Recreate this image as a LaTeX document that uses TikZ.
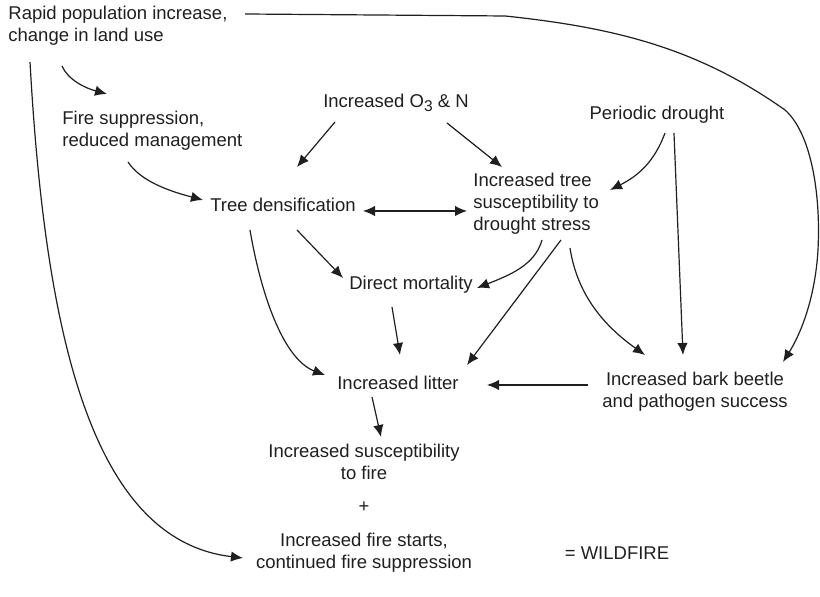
\documentclass[tikz,border=0pt]{standalone}
\usepackage{fontspec}
\setmainfont{Liberation Sans}
\usetikzlibrary{arrows.meta,calc}
\begin{document}
\begin{tikzpicture}[x=0.5pt,y=-0.5pt,
  lbl/.style={inner sep=0pt,font=\fontsize{9.25}{11}\selectfont,text=black!88},
  arr/.style={line width=0.6pt,draw=black!88,-{Latex[length=6pt,width=5.2pt]}},
  darr/.style={line width=0.6pt,draw=black!88,{Latex[length=6pt,width=5.2pt]}-{Latex[length=6pt,width=5.2pt]}}]
\useasboundingbox (0,0) rectangle (820,597);
\node[lbl,anchor=west,align=left] (rapid) at (8,26) {Rapid population increase,\\change in land use};
\node[lbl,anchor=west,align=left] (fire) at (62,131) {Fire suppression,\\reduced management};
\node[lbl] (o3) at (396,103) {Increased O\raisebox{-0.45ex}{\fontsize{7.8}{9}\selectfont 3} \& N};
\node[lbl] (pd) at (657,115) {Periodic drought};
\node[lbl] (td) at (283,205) {Tree densification};
\node[lbl,anchor=west,align=left] (its) at (473,204) {Increased tree\\susceptibility to\\drought stress};
\node[lbl] (dm) at (411,285) {Direct mortality};
\node[lbl] (il) at (398,383) {Increased litter};
\node[lbl,align=center] (bb) at (695,392) {Increased bark beetle\\and pathogen success};
\node[lbl,align=center] (isf) at (364,462) {Increased susceptibility\\to fire};
\node[lbl] (plus) at (364,507) {+};
\node[lbl,align=center] (ifs) at (364,553) {Increased fire starts,\\continued fire suppression};
\node[lbl] (wild) at (617,553) {= WILDFIRE};
% connectors
\draw[arr] ($(rapid.west)+(237,-12)$) -- (505,16) .. controls (620,28) and (700,50) .. (785,110) .. controls (810,132) and (821,190) .. (818,250) .. controls (815,300) and (800,335) .. ($(bb)+(88,-30)$);
\draw[arr] ($(rapid.west)+(54,40)$) .. controls (68,80) and (85,88) .. ($(fire.west)+(45,-37)$);
\draw[arr] ($(rapid.west)+(22,36)$) .. controls (45,330) and (90,540) .. ($(ifs)+(-121,5)$);
\draw[arr] ($(fire.west)+(66,31)$) .. controls (140,180) and (165,190) .. ($(td)+(-80,-5)$);
\draw[arr] ($(o3)+(-61,19)$) -- ($(td)+(14,-38)$);
\draw[arr] ($(o3)+(51,20)$) -- ($(its.west)+(29,-37)$);
\draw[arr] ($(pd)+(8,18)$) .. controls (655,160) and (640,175) .. ($(its.west)+(137,-14)$);
\draw[arr] ($(pd)+(17,18)$) -- ($(bb)+(-12,-37)$);
\draw[darr] ($(td)+(80,6)$) -- ($(its.west)+(-6,7)$);
\draw[arr] ($(td)+(14,25)$) -- ($(dm)+(-68,-7)$);
\draw[arr] ($(td)+(-33,25)$) .. controls (262,300) and (285,360) .. ($(il)+(-73,-8)$);
\draw[arr] ($(its.west)+(69,36)$) .. controls (535,265) and (510,275) .. ($(dm)+(66,3)$);
\draw[arr] ($(its.west)+(88,36)$) -- ($(il)+(69,-18)$);
\draw[arr] ($(its.west)+(97,44)$) .. controls (578,300) and (610,330) .. ($(bb)+(-50,-37)$);
\draw[arr] ($(dm)+(-19,22)$) -- ($(il)+(2,-28)$);
\draw[arr] ($(bb)+(-107,-7)$) -- ($(il)+(89,2)$);
\draw[arr] ($(il)+(-26,14)$) -- ($(isf)+(17,-25)$);
\end{tikzpicture}
\end{document}
